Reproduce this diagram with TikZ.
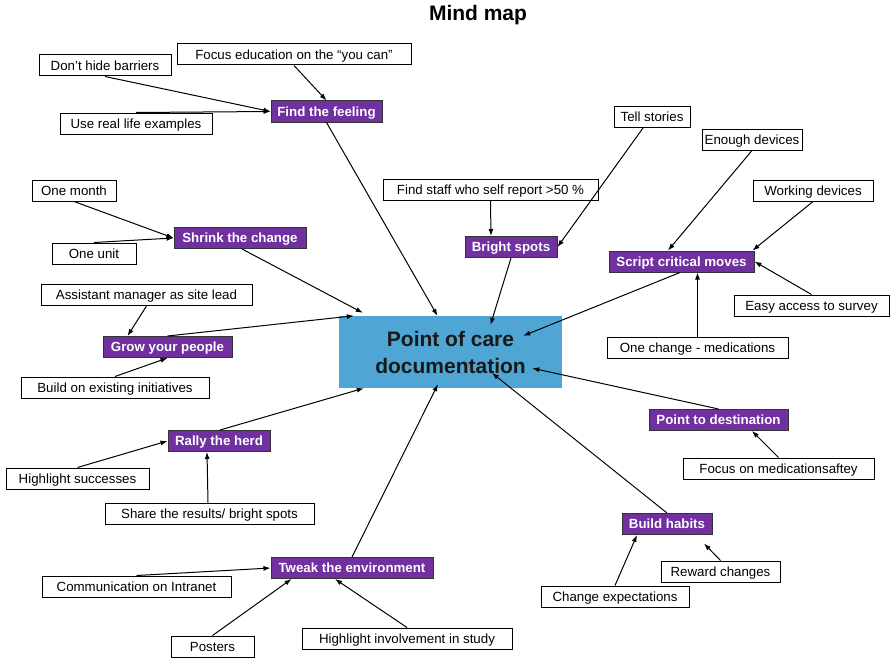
\documentclass[tikz,border=0pt]{standalone}
\usepackage{fontspec}
\setmainfont{Liberation Sans}
\usetikzlibrary{arrows.meta}

\begin{document}
\begin{tikzpicture}[x=1pt, y=-1pt,
  idea/.style={draw, line width=1pt, fill=white, minimum width=#1, minimum height=21pt, inner sep=0pt, text height=9.5pt, text depth=0pt, font=\fontsize{13.3}{16}\selectfont},
  topic/.style={idea=#1, fill=topic_color, draw=black!80, text=white, font=\fontsize{13.3}{16}\selectfont\bfseries},
  hub/.style={fill=hub_color, minimum width=223pt, minimum height=72pt, inner sep=0pt, align=center, text=black!90, font=\fontsize{21}{27}\selectfont\bfseries},
  link/.style={line width=1pt, -{Latex[length=7pt, width=5pt]}}]
\definecolor{topic_color}{RGB}{112,48,160}
\definecolor{hub_color}{RGB}{79,165,212}

\useasboundingbox (0,0) rectangle (890,658);

\node[font=\fontsize{21}{25}\selectfont\bfseries, anchor=base] (title) at (478,21) {Mind map};

\node[hub] (cen) at (450.5,352) {Point of care\\documentation};

\node[topic=111pt] (feel) at (326.5,111.5) {Find the feeling};
\node[idea=132pt] (barr) at (105,65.5) {Don’t hide barriers};
\node[idea=234pt] (focus) at (294,54.5) {Focus education on the “you can”};
\node[idea=152pt] (real) at (136,123.5) {Use real life examples};

\node[topic=132pt] (shrink) at (240,238) {Shrink the change};
\node[idea=84pt] (month) at (74,190.5) {One month};
\node[idea=84pt] (unit) at (94,253.5) {One unit};

\node[topic=129pt] (grow) at (167.5,347) {Grow your people};
\node[idea=211pt] (asst) at (146.5,295) {Assistant manager as site lead};
\node[idea=188pt] (build) at (115,387.5) {Build on existing initiatives};

\node[topic=102pt] (rally) at (219,441) {Rally the herd};
\node[idea=143pt] (hilite) at (77.5,478.5) {Highlight successes};
\node[idea=209pt] (share) at (209.5,513.5) {Share the results/ bright spots};

\node[topic=162pt] (tweak) at (352,568) {Tweak the environment};
\node[idea=189pt] (comm) at (136.5,586.5) {Communication on Intranet};
\node[idea=83pt] (posters) at (212.5,646.5) {Posters};
\node[idea=210pt] (involve) at (407,638.5) {Highlight involvement in study};

\node[topic=92pt] (bright) at (511,247) {Bright spots};
\node[idea=215pt] (staff) at (490.5,190) {Find staff who self report >50 \%};
\node[idea=76pt] (tell) at (652,117) {Tell stories};

\node[topic=145pt] (script) at (681.5,261.5) {Script critical moves};
\node[idea=100pt] (enough) at (752,139.5) {Enough devices};
\node[idea=120pt] (work) at (813,190.5) {Working devices};
\node[idea=155pt] (easy) at (811.5,305.5) {Easy access to survey};
\node[idea=181pt] (onechg) at (697.5,347.5) {One change - medications};

\node[topic=139pt] (dest) at (718.5,420) {Point to destination};
\node[idea=191pt] (medsafe) at (778.5,468.5) {Focus on medicationsaftey};

\node[topic=90pt] (habits) at (667,524) {Build habits};
\node[idea=119pt] (reward) at (720.5,571.5) {Reward changes};
\node[idea=148pt] (expect) at (615,596.5) {Change expectations};
\coordinate (rwend) at ([shift={(-16.5,-17)}]reward.north);

\draw[link] (barr.south) -- (feel.west);
\draw[link] (real.north) -- (feel.west);
\draw[link] (focus.south) -- (feel.north);
\draw[link] (feel.south) -- ([shift={(-13,0)}]cen.north);

\draw[link] (month.south) -- (shrink.west);
\draw[link] (unit.north) -- (shrink.west);
\draw[link] ([shift={(2,0)}]shrink.south) -- ([shift={(24,-3)}]cen.north west);

\draw[link] (asst.south) -- ([shift={(-40,0)}]grow.north);
\draw[link] (build.north) -- (grow.south);
\draw[link] (grow.north) -- ([shift={(15,0)}]cen.north west);

\draw[link] (hilite.north) -- (rally.west);
\draw[link] ([shift={(-1.5,0)}]share.north) -- ([shift={(-12,0)}]rally.south);
\draw[link] ([shift={(1,0)}]rally.north) -- ([shift={(25,0)}]cen.south west);

\draw[link] (comm.north) -- (tweak.west);
\draw[link] (posters.north) -- ([shift={(21,0)}]tweak.south west);
\draw[link] (involve.north) -- ([shift={(-17,0)}]tweak.south);
\draw[link] (tweak.north) -- ([shift={(-12.5,-4)}]cen.south);

\draw[link] (staff.south) -- ([shift={(-20,0)}]bright.north);
\draw[link] ([shift={(-9,0)}]tell.south) -- (bright.east);
\draw[link] (bright.south) -- ([shift={(40,9)}]cen.north);

\draw[link] (enough.south) -- ([shift={(-13.5,0)}]script.north);
\draw[link] (work.south) -- ([shift={(-2,0)}]script.north east);
\draw[link] (easy.north) -- (script.east);
\draw[link] (onechg.north) -- ([shift={(16,0)}]script.south);
\draw[link] ([shift={(-1.5,0)}]script.south) -- ([shift={(-39,20)}]cen.north east);

\draw[link] (medsafe.north) -- ([shift={(33.5,0)}]dest.south);
\draw[link] (dest.north) -- ([shift={(-30,-20)}]cen.south east);

\draw[link] (habits.north) -- ([shift={(41.5,21)}]cen.center);
\draw[link] (expect.north) -- ([shift={(-30,0)}]habits.south);
\draw[link] (reward.north) -- (rwend);

\end{tikzpicture}
\end{document}
